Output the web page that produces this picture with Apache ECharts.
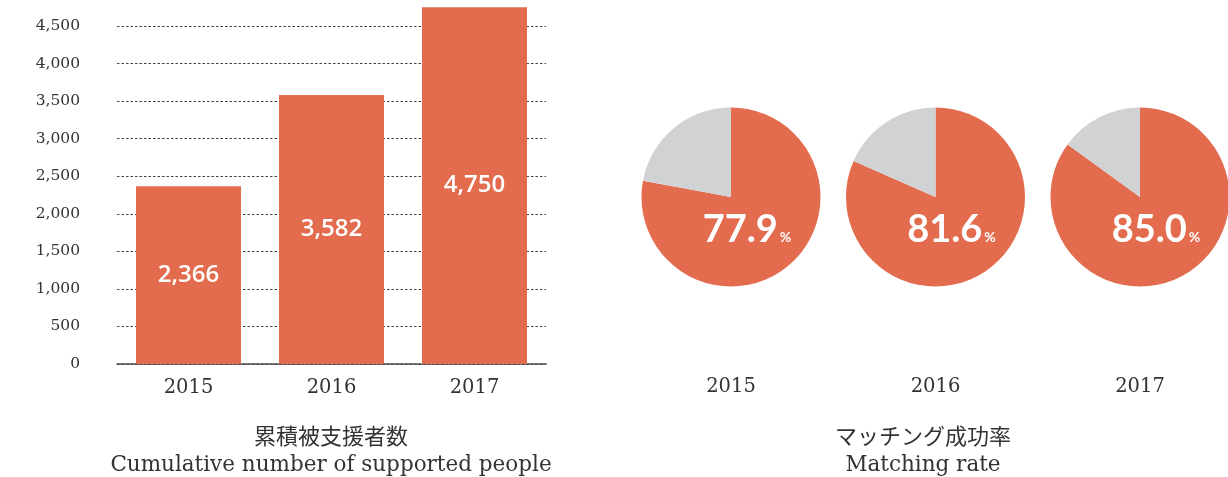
<!DOCTYPE html>
<html>
<head>
<meta charset="utf-8">
<script src="https://cdn.jsdelivr.net/npm/echarts@6/dist/echarts.min.js"></script>
<style>
  html, body { margin: 0; padding: 0; background: #ffffff; }
  #chart { width: 1228px; height: 477px; }
</style>
</head>
<body>
<div id="chart"></div>
<script>
// Cumulative number of supported people, per year
const years = ['2015', '2016', '2017'];
const supported = [2366, 3582, 4750];

// Matching success rate (%), per year
const matchingRate = [77.9, 81.6, 85.0];

// Value axis ticks
const yMin = 0;
const yStep = 500;
const yMax = 4846;

const ORANGE = '#E36C4E';
const GREY = '#D1D2D4';
const SERIF = '"DejaVu Serif", "Noto Sans CJK JP", serif';

const fmt = v => v.toLocaleString('en-US');

const pieCenters = [731, 935.5, 1140];

const chart = echarts.init(document.getElementById('chart'), null, { renderer: 'canvas' });

const pieSeries = matchingRate.map((rate, i) => ({
  type: 'pie',
  center: [pieCenters[i], 197],
  radius: [0, 89.5],
  startAngle: 90,
  clockwise: true,
  silent: true,
  animation: false,
  labelLine: { show: false },
  itemStyle: { borderWidth: 0 },
  emphasis: { disabled: true },
  data: [
    {
      value: rate,
      itemStyle: { color: ORANGE },
      label: {
        show: true,
        position: 'center',
        offset: [16, 32],
        formatter: p => '{num|' + p.value.toFixed(1) + '}{pct|%}',
        rich: {
          num: { fontFamily: 'Lato', fontWeight: 'bold', fontSize: 38, color: '#ffffff', verticalAlign: 'bottom', lineHeight: 40 },
          pct: { fontFamily: 'Lato', fontWeight: 'bold', fontSize: 14, color: '#ffffff', verticalAlign: 'bottom', lineHeight: 40, padding: [0, 0, 5, 2] }
        }
      }
    },
    {
      value: +(100 - rate).toFixed(1),
      itemStyle: { color: GREY },
      label: { show: false }
    }
  ]
}));

const yearLabels = years.map((y, i) => ({
  type: 'text',
  x: pieCenters[i],
  y: 387,
  style: {
    text: y,
    fontFamily: SERIF,
    fontSize: 19.5,
    fill: '#333333',
    align: 'center',
    verticalAlign: 'middle'
  }
}));

const captions = [
  { x: 331, y: 438, text: '累積被支援者数', size: 22 },
  { x: 331, y: 465, text: 'Cumulative number of supported people', size: 21.5 },
  { x: 923, y: 438, text: 'マッチング成功率', size: 22 },
  { x: 923, y: 465, text: 'Matching rate', size: 21.5 }
].map(c => ({
  type: 'text',
  x: c.x,
  y: c.y,
  style: {
    text: c.text,
    fontFamily: SERIF,
    fontSize: c.size,
    fill: '#333333',
    align: 'center',
    verticalAlign: 'middle'
  }
}));

chart.setOption({
  animation: false,
  backgroundColor: '#ffffff',
  grid: { left: 117, right: 1228 - 546, top: 0, bottom: 477 - 364, containLabel: false },
  xAxis: {
    type: 'category',
    data: years,
    axisLine: { lineStyle: { color: '#4a4a4a', width: 1.5 } },
    axisTick: { show: false },
    axisLabel: { fontFamily: SERIF, fontSize: 19.5, color: '#333333', margin: 14 }
  },
  yAxis: {
    type: 'value',
    min: yMin,
    max: yMax,
    interval: yStep,
    axisLine: { show: false },
    axisTick: { show: false },
    axisLabel: {
      fontFamily: SERIF,
      fontSize: 15.5,
      color: '#333333',
      margin: 37,
      showMaxLabel: false,
      formatter: v => fmt(v)
    },
    splitLine: {
      showMaxLine: false,
      lineStyle: { color: '#444444', type: [2.5, 2], width: 1 }
    }
  },
  series: [
    {
      type: 'bar',
      data: supported,
      barWidth: 105,
      silent: true,
      itemStyle: { color: ORANGE },
      label: {
        show: true,
        position: 'inside',
        formatter: p => fmt(p.value),
        fontFamily: '"Open Sans"',
        fontWeight: 600,
        fontSize: 24,
        color: '#ffffff'
      }
    },
    ...pieSeries
  ],
  graphic: [...yearLabels, ...captions]
});
</script>
</body>
</html>
